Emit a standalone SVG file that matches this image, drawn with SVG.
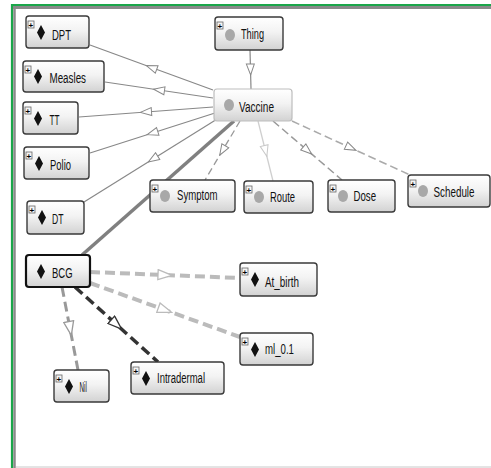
<svg xmlns="http://www.w3.org/2000/svg" width="491" height="468" viewBox="0 0 491 468">
<defs>
<linearGradient id="g" x1="0" y1="0" x2="0" y2="1">
<stop offset="0" stop-color="#ffffff"/><stop offset="0.45" stop-color="#f3f3f3"/><stop offset="1" stop-color="#d2d2d2"/>
</linearGradient>
<marker id="a1" viewBox="-1 -1 13 10" refX="5.5" refY="4" markerWidth="13" markerHeight="10" markerUnits="userSpaceOnUse" orient="auto"><path d="M0,0 L11,4 L0,8 Z" fill="#fff" stroke="#888" stroke-width="1"/></marker>
<marker id="a2" viewBox="-1 -1 13 10" refX="5.5" refY="4" markerWidth="13" markerHeight="10" markerUnits="userSpaceOnUse" orient="auto"><path d="M0,0 L11,4 L0,8 Z" fill="#fff" stroke="#c8c8c8" stroke-width="1"/></marker>
<marker id="a3" viewBox="-1 -1 16 12" refX="7" refY="5" markerWidth="16" markerHeight="12" markerUnits="userSpaceOnUse" orient="auto"><path d="M0,0 L14,5 L0,10 Z" fill="#fff" stroke="#bbb" stroke-width="1.3"/></marker>
<marker id="a4" viewBox="-1 -1 16 12" refX="7" refY="5" markerWidth="16" markerHeight="12" markerUnits="userSpaceOnUse" orient="auto"><path d="M0,0 L14,5 L0,10 Z" fill="#fff" stroke="#999" stroke-width="1.3"/></marker>
<marker id="a5" viewBox="-1 -1 16 12" refX="7" refY="5" markerWidth="16" markerHeight="12" markerUnits="userSpaceOnUse" orient="auto"><path d="M0,0 L14,5 L0,10 Z" fill="#fff" stroke="#333" stroke-width="1.3"/></marker>
</defs>
<style>
.box{fill:url(#g);stroke:#3a3a3a;stroke-width:1.4}
.pl{fill:#f4f4f4;stroke:#666;stroke-width:0.8}
.plt{font-family:"Liberation Sans",Arial,sans-serif;font-size:8px;font-weight:bold;fill:#000}
.t{font-family:"Liberation Sans Narrow","Liberation Sans",Arial,sans-serif;font-size:15.5px;fill:#111}
.dia{fill:#111}
.cir{fill:#a8a8a8}
.e{fill:none}
</style>
<rect x="0" y="0" width="491" height="468" fill="#fff"/>
<!-- frame -->
<line x1="11" y1="5" x2="491" y2="5" stroke="#1aa64a" stroke-width="2"/>
<line x1="12" y1="4" x2="12" y2="468" stroke="#1aa64a" stroke-width="2.2"/>
<line x1="13" y1="7.5" x2="491" y2="7.5" stroke="#8a8a8a" stroke-width="3"/>
<line x1="14.5" y1="6" x2="14.5" y2="468" stroke="#8a8a8a" stroke-width="2.5"/>
<line x1="16" y1="467" x2="491" y2="467" stroke="#c8c8c8" stroke-width="1"/>

<g id="connectors">
<path class="e" d="M250,50 L250.5,69.5 L251,89" stroke="#888" stroke-width="1.2" marker-mid="url(#a1)"/>
<path class="e" d="M213,90 L151.5,67.5 L90,45" stroke="#888" stroke-width="1.2" marker-mid="url(#a1)"/>
<path class="e" d="M213,98 L159,90 L105,82" stroke="#888" stroke-width="1.2" marker-mid="url(#a1)"/>
<path class="e" d="M213,107 L146,112 L79,117" stroke="#888" stroke-width="1.2" marker-mid="url(#a1)"/>
<path class="e" d="M215,113 L152.5,133 L90,153" stroke="#888" stroke-width="1.2" marker-mid="url(#a1)"/>
<path class="e" d="M222,116 L153,159 L84,202" stroke="#888" stroke-width="1.2" marker-mid="url(#a1)"/>
<path class="e" d="M234,121 L82,255" stroke="#808080" stroke-width="3.5"/>
<path class="e" d="M240,121 L222.5,150.5 L205,180" stroke="#999" stroke-width="1.3" stroke-dasharray="7,4" marker-mid="url(#a1)"/>
<path class="e" d="M258,121 L265.5,151 L273,181" stroke="#cfcfcf" stroke-width="1.3" marker-mid="url(#a2)"/>
<path class="e" d="M273,121 L307.5,150.5 L342,180" stroke="#999" stroke-width="1.5" stroke-dasharray="8,4" marker-mid="url(#a1)"/>
<path class="e" d="M292,121 L351,148 L410,175" stroke="#aaa" stroke-width="1.5" stroke-dasharray="8,4" marker-mid="url(#a1)"/>
<path class="e" d="M90,272 L165,275 L240,278" stroke="#bbb" stroke-width="4" stroke-dasharray="10,5" marker-mid="url(#a3)"/>
<path class="e" d="M90,283 L165,310 L240,337" stroke="#bbb" stroke-width="4" stroke-dasharray="10,5" marker-mid="url(#a3)"/>
<path class="e" d="M62,287 L70,328.5 L78,370" stroke="#999" stroke-width="3" stroke-dasharray="10,5" marker-mid="url(#a4)"/>
<path class="e" d="M75,287 L116.5,324.5 L158,362" stroke="#333" stroke-width="3.5" stroke-dasharray="10,5" marker-mid="url(#a5)"/>
</g>

<g id="DPT">
<rect class="box" x="26" y="16" width="63" height="32" rx="3"/>
<rect class="pl" x="28" y="21" width="6" height="7"/><text class="plt" x="28.5" y="27.5">+</text>
<path class="dia" d="M41,25 L45,32.5 L41,40 L37,32.5 Z"/>
<text class="t" x="52" y="39.5" textLength="19" lengthAdjust="spacingAndGlyphs">DPT</text>
</g>
<g id="Measles">
<rect class="box" x="23" y="61" width="81" height="31" rx="3"/>
<rect class="pl" x="25" y="66" width="6" height="7"/><text class="plt" x="25.5" y="72.5">+</text>
<path class="dia" d="M38,69 L42,76.5 L38,84 L34,76.5 Z"/>
<text class="t" x="49.5" y="83" textLength="36.5" lengthAdjust="spacingAndGlyphs">Measles</text>
</g>
<g id="TT">
<rect class="box" x="23" y="102" width="55" height="32" rx="3"/>
<rect class="pl" x="25" y="107" width="6" height="7"/><text class="plt" x="25.5" y="113.5">+</text>
<path class="dia" d="M38,111 L42,118.5 L38,126 L34,118.5 Z"/>
<text class="t" x="49.5" y="125" textLength="10" lengthAdjust="spacingAndGlyphs">TT</text>
</g>
<g id="Polio">
<rect class="box" x="24" y="147" width="65" height="32" rx="3"/>
<rect class="pl" x="26" y="152" width="6" height="7"/><text class="plt" x="26.5" y="158.5">+</text>
<path class="dia" d="M39,156 L43,163.5 L39,171 L35,163.5 Z"/>
<text class="t" x="50" y="170" textLength="21" lengthAdjust="spacingAndGlyphs">Polio</text>
</g>
<g id="DT">
<rect class="box" x="27" y="201" width="57" height="33" rx="3"/>
<rect class="pl" x="29" y="206" width="6" height="7"/><text class="plt" x="29.5" y="212.5">+</text>
<path class="dia" d="M42,210 L46,217.5 L42,225 L38,217.5 Z"/>
<text class="t" x="52" y="224" textLength="11.5" lengthAdjust="spacingAndGlyphs">DT</text>
</g>
<g id="BCG">
<rect class="box" x="26" y="255" width="64" height="32" rx="3" style="stroke:#111;stroke-width:2.2"/>
<path class="dia" d="M41,264 L45,271.5 L41,279 L37,271.5 Z"/>
<text class="t" x="52" y="278" textLength="20.5" lengthAdjust="spacingAndGlyphs">BCG</text>
</g>
<g id="Thing">
<rect class="box" x="215" y="17" width="68" height="33" rx="3"/>
<rect class="pl" x="217" y="22" width="6" height="7"/><text class="plt" x="217.5" y="28.5">+</text>
<ellipse class="cir" cx="230" cy="35" rx="5" ry="6"/>
<text class="t" x="241" y="39" textLength="23" lengthAdjust="spacingAndGlyphs">Thing</text>
</g>
<g id="Vaccine">
<rect class="box" x="214" y="89" width="78" height="32" rx="3" style="stroke:#bdbdbd;stroke-width:1.2"/>
<ellipse class="cir" cx="229" cy="105" rx="5" ry="6"/>
<text class="t" x="239" y="112" textLength="35" lengthAdjust="spacingAndGlyphs">Vaccine</text>
</g>
<g id="Symptom">
<rect class="box" x="150" y="180" width="85" height="32" rx="3"/>
<rect class="pl" x="152" y="185" width="6" height="7"/><text class="plt" x="152.5" y="191.5">+</text>
<ellipse class="cir" cx="165" cy="196" rx="5" ry="6"/>
<text class="t" x="177" y="200" textLength="40.5" lengthAdjust="spacingAndGlyphs">Symptom</text>
</g>
<g id="Route">
<rect class="box" x="244" y="181" width="69" height="32" rx="3"/>
<rect class="pl" x="246" y="186" width="6" height="7"/><text class="plt" x="246.5" y="192.5">+</text>
<ellipse class="cir" cx="259" cy="197" rx="5" ry="6"/>
<text class="t" x="270" y="202" textLength="25" lengthAdjust="spacingAndGlyphs">Route</text>
</g>
<g id="Dose">
<rect class="box" x="328" y="180" width="67" height="32" rx="3"/>
<rect class="pl" x="330" y="185" width="6" height="7"/><text class="plt" x="330.5" y="191.5">+</text>
<ellipse class="cir" cx="343" cy="196" rx="5" ry="6"/>
<text class="t" x="353.5" y="200.5" textLength="22.5" lengthAdjust="spacingAndGlyphs">Dose</text>
</g>
<g id="Schedule">
<rect class="box" x="408" y="175" width="82" height="32" rx="3"/>
<rect class="pl" x="410" y="180" width="6" height="7"/><text class="plt" x="410.5" y="186.5">+</text>
<ellipse class="cir" cx="423" cy="191" rx="5" ry="6"/>
<text class="t" transform="translate(433.5,196.5) scale(0.635,1)" x="0" y="0">Schedule</text>
</g>
<g id="At_birth">
<rect class="box" x="240" y="263" width="77" height="33" rx="3"/>
<rect class="pl" x="242" y="268" width="6" height="7"/><text class="plt" x="242.5" y="274.5">+</text>
<path class="dia" d="M255,272 L259,279.5 L255,287 L251,279.5 Z"/>
<text class="t" x="265" y="286.5" textLength="34" lengthAdjust="spacingAndGlyphs">At_birth</text>
</g>
<g id="ml_0.1">
<rect class="box" x="240" y="333" width="73" height="32" rx="3"/>
<rect class="pl" x="242" y="338" width="6" height="7"/><text class="plt" x="242.5" y="344.5">+</text>
<path class="dia" d="M255,342 L259,349.5 L255,357 L251,349.5 Z"/>
<text class="t" x="265" y="354" textLength="29" lengthAdjust="spacingAndGlyphs">ml_0.1</text>
</g>
<g id="Nil">
<rect class="box" x="54" y="370" width="55" height="32" rx="3"/>
<rect class="pl" x="56" y="375" width="6" height="7"/><text class="plt" x="56.5" y="381.5">+</text>
<path class="dia" d="M69,379 L73,386.5 L69,394 L65,386.5 Z"/>
<text class="t" x="79.5" y="392" textLength="7.3" lengthAdjust="spacingAndGlyphs">Nil</text>
</g>
<g id="Intradermal">
<rect class="box" x="131" y="362" width="93" height="32" rx="3"/>
<rect class="pl" x="133" y="367" width="6" height="7"/><text class="plt" x="133.5" y="373.5">+</text>
<path class="dia" d="M146,371 L150,378.5 L146,386 L142,378.5 Z"/>
<text class="t" x="157" y="383" textLength="48" lengthAdjust="spacingAndGlyphs">Intradermal</text>
</g>
</svg>
